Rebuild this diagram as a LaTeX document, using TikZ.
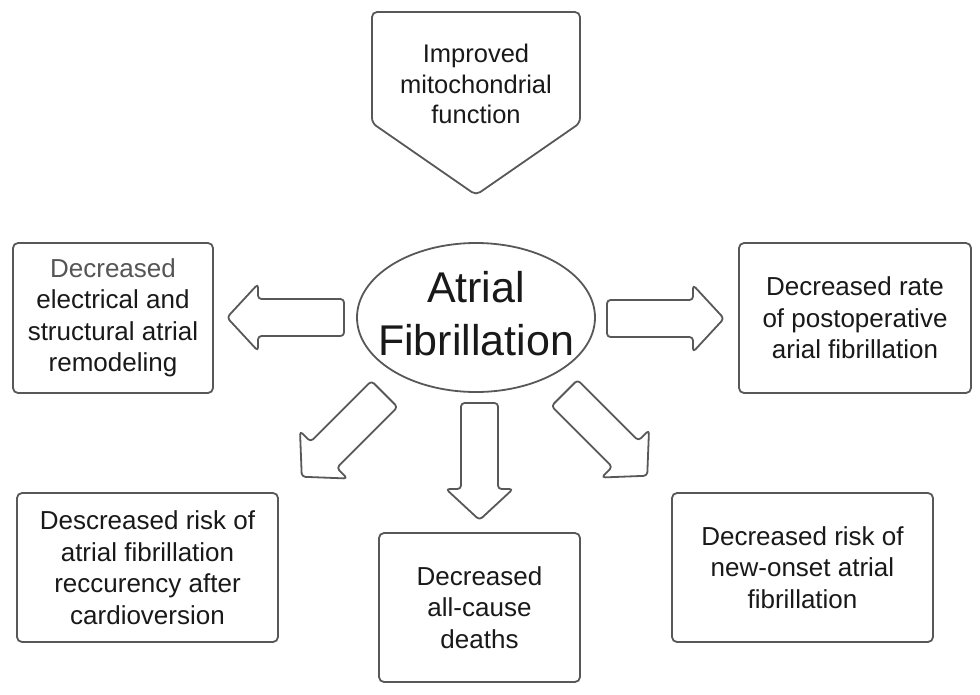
\documentclass[tikz,border=0pt]{standalone}
\usepackage{fontspec}
\setmainfont{Liberation Sans}
\usetikzlibrary{shapes.geometric}
\definecolor{linegray}{RGB}{88,88,88}
\definecolor{txt}{RGB}{25,25,25}
\definecolor{txtlight}{RGB}{85,85,85}
\tikzset{
  x=1pt, y=-1pt,
  outline/.style={draw=linegray, line width=1.8pt, rounded corners=5pt},
  box/.style={outline, rectangle, inner sep=0pt, align=center, text=txt,
    font=\fontsize{26}{31.5}\selectfont},
  arrowline/.style={draw=linegray, line width=1.8pt, rounded corners=3.5pt, line join=round},
  blockarr/.pic={
    \draw[arrowline] (0,-18.5) -- (86,-18.5) -- (86,-33.5) -- (117,0) -- (86,33.5) -- (86,18.5) -- (0,18.5) -- cycle;
  }
}
\begin{document}
\begin{tikzpicture}
\useasboundingbox[fill=white] (0,0) rectangle (980,694);

% top pentagon
\draw[outline] (372,12) -- (580,12) -- (580,123) -- (476,195) -- (372,123) -- cycle;
\node[align=center, text=txt, font=\fontsize{25.5}{30.5}\selectfont] (mito) at (476,84)
  {Improved\\mitochondrial\\function};

% central ellipse
\node[ellipse, draw=linegray, line width=1.8pt, minimum width=238pt, minimum height=149pt, inner sep=0pt] (af) at (476,317.5) {};
\node[align=center, text=txt, font=\fontsize{43}{53}\selectfont] (aftext) at (476,314) {Atrial\\Fibrillation};

% boxes
\node[box, minimum width=200pt, minimum height=150pt] (left) at (113,318)
  {\textcolor{txtlight}{Decreased}\\electrical and\\structural atrial\\remodeling};
\node[box, minimum width=232pt, minimum height=150pt] (right) at (855,318)
  {Decreased rate\\of postoperative\\arial fibrillation};
\node[box, minimum width=261pt, minimum height=149pt] (bl) at (147.5,567.5)
  {Descreased risk of\\atrial fibrillation\\reccurency after\\cardioversion};
\node[box, minimum width=201pt, minimum height=149pt] (bm) at (479.5,607.5)
  {Decreased\\all-cause\\deaths};
\node[box, minimum width=261pt, minimum height=149pt] (br) at (802.5,567.5)
  {Decreased risk of\\new-onset atrial\\fibrillation};

% block arrows
\pic[rotate=180] at (344,317.5) {blockarr};
\pic at (607,318.5) {blockarr};
\pic[rotate=-90] at (479.5,403) {blockarr};
\pic[rotate=-135] at (384.5,394) {blockarr};
\pic[rotate=-45] at (564.5,393) {blockarr};
\end{tikzpicture}
\end{document}
